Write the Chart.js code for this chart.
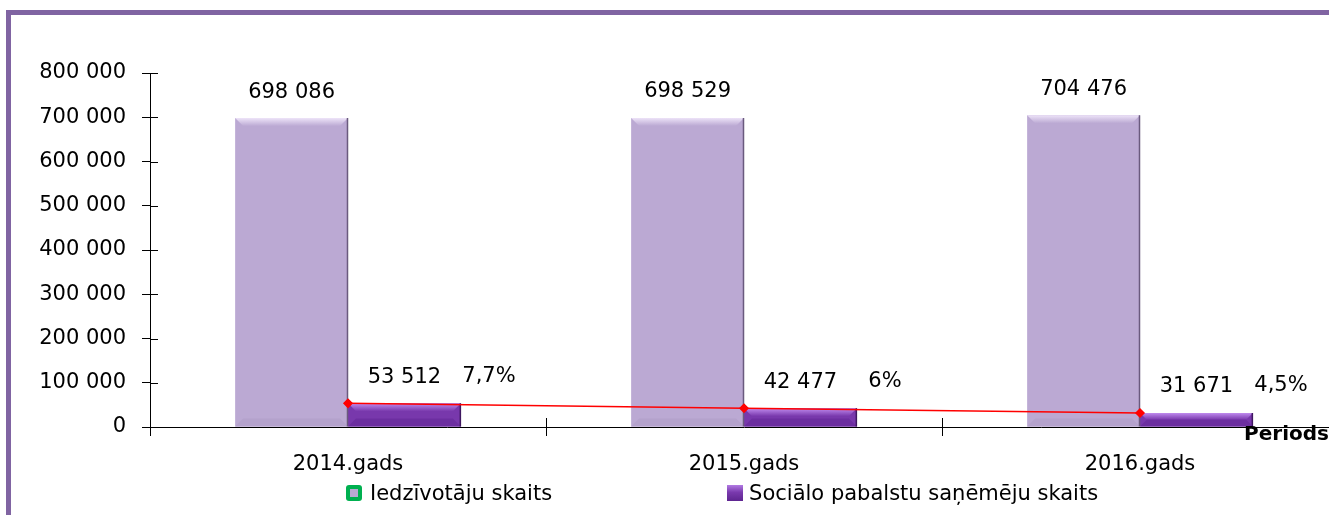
<!DOCTYPE html>
<html lang="lv">
<head>
<meta charset="utf-8">
<title>Iedzīvotāju un sociālo pabalstu saņēmēju skaits</title>
<script src="https://cdn.jsdelivr.net/npm/chart.js@4/dist/chart.umd.min.js"></script>
<style>
    html, body { margin: 0; padding: 0; background: #fff; overflow: hidden; width: 1329px; height: 515px; }
    .frame { position: absolute; left: 6px; top: 10px; width: 1400px; height: 600px; border: 5px solid #8064A2; box-sizing: border-box; }
    #chartBox { position: absolute; left: 0; top: 0; }
    .legend { position: absolute; left: 346px; top: 481px; display: flex; gap: 175px; font: 21px "DejaVu Sans", sans-serif; color: #000; }
    .legend .item { display: flex; align-items: center; white-space: nowrap; }
    .legend .mk { display: inline-block; width: 16px; height: 16px; margin-right: 8px; box-sizing: border-box; }
    .mk-green { background: #00B050; border-radius: 3px; position: relative; }
    .mk-green::after { content: ''; position: absolute; left: 4px; top: 4px; width: 8px; height: 8px; background: #BBA9D3; }
    .mk-violet { background: linear-gradient(180deg, #B27BE3 0%, #7A3AAE 45%, #5E2590 100%); margin-right: 6px !important; }
</style>
</head>
<body>
<div class="frame"></div>
<canvas id="chartBox" width="1360" height="515"></canvas>
<div class="legend" id="legend"></div>

<script>
// --- Date ---
const categories = ['2014.gads', '2015.gads', '2016.gads'];
const iedzivotaji = [698086, 698529, 704476];     // Iedzīvotāju skaits
const sanemeji = [53512, 42477, 31671];           // Sociālo pabalstu saņēmēju skaits
const procenti = ['7,7%', '6%', '4,5%'];          // saņēmēju daļa no iedzīvotājiem
const yMin = 0;
const yMax = 800000;
const yStep = 100000;

const FONT = 'DejaVu Sans';

// skaitlis ar atstarpi kā tūkstošu atdalītāju
function fmt(n) {
    return String(n).replace(/\B(?=(\d{3})+(?!\d))/g, ' ');
}

// --- Bevel efekts stabiņiem (kā Excel) ---
const bevelPlugin = {
    id: 'bevel',
    afterDatasetDraw(chart, args) {
        const meta = args.meta;
        if (meta.type !== 'bar') return;
        const ds = chart.data.datasets[args.index];
        const ctx = chart.ctx;
        meta.data.forEach(el => {
            const p = el.getProps(['x', 'y', 'base', 'width'], true);
            const l = p.x - p.width / 2, r = p.x + p.width / 2;
            const t = Math.min(p.y, p.base), b = Math.max(p.y, p.base);
            const bv = Math.min(8, (b - t) / 2);
            ctx.save();
            // augša - gaišs slīpums
            const g = ctx.createLinearGradient(0, t, 0, t + bv);
            g.addColorStop(0, ds.bevelTop);
            g.addColorStop(1, ds.backgroundColor);
            ctx.fillStyle = g;
            ctx.beginPath();
            ctx.moveTo(l, t); ctx.lineTo(r, t); ctx.lineTo(r - bv, t + bv); ctx.lineTo(l + bv, t + bv);
            ctx.closePath(); ctx.fill();
            // apakša - nedaudz tumšāka
            ctx.fillStyle = ds.bevelBottom;
            ctx.beginPath();
            ctx.moveTo(l, b); ctx.lineTo(r, b); ctx.lineTo(r - bv, b - bv); ctx.lineTo(l + bv, b - bv);
            ctx.closePath(); ctx.fill();
            // labā mala ēnā
            ctx.strokeStyle = ds.edgeColor;
            ctx.lineWidth = 1.5;
            ctx.beginPath();
            ctx.moveTo(r - 0.5, t); ctx.lineTo(r - 0.5, b);
            ctx.stroke();
            ctx.restore();
        });
    }
};

// --- Krusteniskās atzīmes uz asīm ---
const crossTicks = {
    id: 'crossTicks',
    afterDraw(chart) {
        const ctx = chart.ctx;
        const xs = chart.scales.x, ys = chart.scales.y;
        ctx.save();
        ctx.strokeStyle = '#000';
        ctx.lineWidth = 1;
        ys.ticks.forEach((t, i) => {
            const y = Math.round(ys.getPixelForTick(i)) + 0.5;
            ctx.beginPath(); ctx.moveTo(ys.right, y); ctx.lineTo(ys.right + 8, y); ctx.stroke();
        });
        const n = categories.length;
        for (let i = 0; i <= n; i++) {
            const x = Math.round(xs.left + i * xs.width / n) + 0.5;
            ctx.beginPath(); ctx.moveTo(x, xs.top); ctx.lineTo(x, xs.top - 9); ctx.stroke();
        }
        ctx.restore();
    }
};

// --- Datu etiķetes + ass nosaukums ---
const labelsPlugin = {
    id: 'valueLabels',
    afterDatasetsDraw(chart) {
        const ctx = chart.ctx;
        ctx.save();
        ctx.fillStyle = '#000';
        ctx.font = '21px "' + FONT + '"';
        ctx.textAlign = 'center';
        ctx.textBaseline = 'middle';
        chart.data.datasets.forEach((ds, di) => {
            const meta = chart.getDatasetMeta(di);
            meta.data.forEach((el, i) => {
                if (meta.type === 'bar') {
                    ctx.fillText(fmt(ds.data[i]), el.x, el.y - 26);
                } else {
                    ctx.fillText(procenti[i], el.x + 141, el.y - 27);
                }
            });
        });
        // "Periods"
        const xs = chart.scales.x;
        ctx.font = 'bold 20px "' + FONT + '"';
        ctx.textAlign = 'right';
        ctx.fillText('Periods', xs.right - 9, xs.top + 8);
        ctx.restore();
    }
};

const ctx = document.getElementById('chartBox').getContext('2d');
const padLeft = 20;

const myChart = new Chart(ctx, {
    data: {
        labels: categories,
        datasets: [
            {
                type: 'line',
                label: 'Īpatsvars',
                data: sanemeji,
                order: 0,
                borderColor: '#FF0000',
                backgroundColor: '#FF0000',
                borderWidth: 1.5,
                pointStyle: 'rectRot',
                pointRadius: 4,
                pointBackgroundColor: '#FF0000',
                pointBorderColor: '#FF0000',
                tension: 0
            },
            {
                type: 'bar',
                label: 'Iedzīvotāju skaits',
                data: iedzivotaji,
                order: 1,
                backgroundColor: '#BBA9D3',
                bevelTop: '#EDE3F8',
                bevelBottom: '#B4A2CC',
                edgeColor: '#6A5A7E',
                borderWidth: 0,
                categoryPercentage: 0.57,
                barPercentage: 1.0
            },
            {
                type: 'bar',
                label: 'Sociālo pabalstu saņēmēju skaits',
                data: sanemeji,
                order: 1,
                backgroundColor: '#7838AC',
                bevelTop: '#C08BEE',
                bevelBottom: '#6C2EA0',
                edgeColor: '#3E1760',
                borderWidth: 0,
                categoryPercentage: 0.57,
                barPercentage: 1.0
            }
        ]
    },
    options: {
        responsive: false,
        animation: false,
        layout: { padding: { left: padLeft, right: 22, top: 73, bottom: 0 } },
        plugins: {
            legend: { display: false },
            tooltip: { enabled: false }
        },
        scales: {
            x: {
                type: 'category',
                offset: true,
                grid: { offset: true, drawOnChartArea: false, tickLength: 9, color: '#000' },
                border: { color: '#000', width: 1 },
                ticks: { color: '#000', font: { family: FONT, size: 21 }, padding: 16, maxRotation: 0 },
                afterFit(s) { s.height = 88; }
            },
            y: {
                type: 'linear',
                min: yMin,
                max: yMax,
                grid: { drawOnChartArea: false, tickLength: 8, color: '#000' },
                border: { color: '#000', width: 1 },
                ticks: {
                    stepSize: yStep,
                    color: '#000',
                    font: { family: FONT, size: 21 },
                    padding: 16,
                    callback: v => fmt(v)
                },
                afterFit(s) { s.width = 150 - padLeft; }
            }
        }
    },
    plugins: [bevelPlugin, crossTicks, labelsPlugin]
});

// Leģenda (HTML)
const legendEl = document.getElementById('legend');
const markers = ['mk-green', 'mk-violet'];
myChart.data.datasets.filter(d => d.type === 'bar').forEach((d, i) => {
    legendEl.innerHTML += `<span class="item"><span class="mk ${markers[i]}"></span>${d.label}</span>`;
});
</script>
</body>
</html>
